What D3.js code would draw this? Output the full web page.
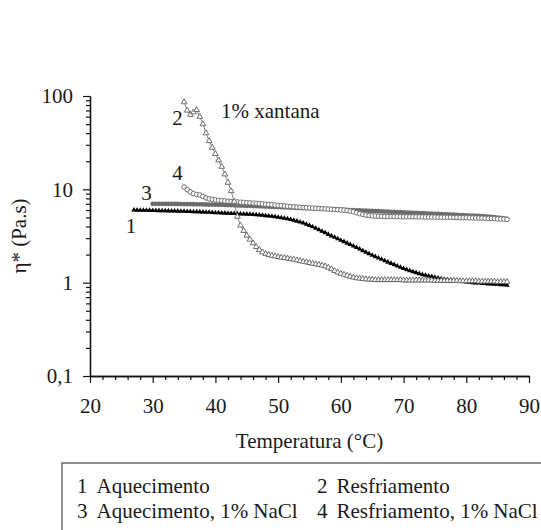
<!DOCTYPE html>
<html>
<head>
<meta charset="utf-8">
<script src="https://cdn.jsdelivr.net/npm/d3@7"></script>
<style>
  html, body { margin: 0; padding: 0; background: #fff; }
  svg { display: block; }
  text { font-family: "Liberation Serif", "Times New Roman", serif; fill: #1a1a1a; }
</style>
</head>
<body>
<svg id="chart" width="541" height="530"></svg>
<script>
// Temperature sweep grid (°C), shared by all four runs
const temperatura = [
  27, 27.5, 28, 28.5, 29, 29.5, 30, 30.5, 31, 31.5,
  32, 32.5, 33, 33.5, 34, 34.5, 35, 35.5, 36, 36.5,
  37, 37.5, 38, 38.5, 39, 39.5, 40, 40.5, 41, 41.5,
  42, 42.5, 43, 43.5, 44, 44.5, 45, 45.5, 46, 46.5,
  47, 47.5, 48, 48.5, 49, 49.5, 50, 50.5, 51, 51.5,
  52, 52.5, 53, 53.5, 54, 54.5, 55, 55.5, 56, 56.5,
  57, 57.5, 58, 58.5, 59, 59.5, 60, 60.5, 61, 61.5,
  62, 62.5, 63, 63.5, 64, 64.5, 65, 65.5, 66, 66.5,
  67, 67.5, 68, 68.5, 69, 69.5, 70, 70.5, 71, 71.5,
  72, 72.5, 73, 73.5, 74, 74.5, 75, 75.5, 76, 76.5,
  77, 77.5, 78, 78.5, 79, 79.5, 80, 80.5, 81, 81.5,
  82, 82.5, 83, 83.5, 84, 84.5, 85, 85.5, 86, 86.5
];

// η* (Pa.s) — 1: heating
const aquecimento = [
  6.00, 5.99, 5.98, 5.97, 5.96, 5.95, 5.94, 5.92, 5.91, 5.90,
  5.89, 5.88, 5.86, 5.85, 5.84, 5.82, 5.81, 5.79, 5.78, 5.76,
  5.75, 5.73, 5.71, 5.69, 5.67, 5.65, 5.62, 5.60, 5.58, 5.56,
  5.54, 5.52, 5.50, 5.48, 5.46, 5.44, 5.42, 5.40, 5.37, 5.34,
  5.31, 5.27, 5.23, 5.19, 5.14, 5.09, 5.03, 4.97, 4.90, 4.83,
  4.75, 4.66, 4.56, 4.46, 4.35, 4.23, 4.10, 3.97, 3.83, 3.69,
  3.55, 3.42, 3.29, 3.17, 3.06, 2.95, 2.85, 2.75, 2.65, 2.56,
  2.47, 2.38, 2.29, 2.20, 2.12, 2.04, 1.97, 1.90, 1.84, 1.78,
  1.72, 1.66, 1.61, 1.56, 1.51, 1.46, 1.42, 1.38, 1.34, 1.31,
  1.28, 1.25, 1.22, 1.20, 1.18, 1.16, 1.14, 1.12, 1.10, 1.09,
  1.08, 1.07, 1.06, 1.05, 1.04, 1.03, 1.02, 1.01, 1.00, 0.99,
  0.99, 0.98, 0.98, 0.97, 0.97, 0.96, 0.96, 0.95, 0.95, 0.94
];

// 2: cooling
const resfriamento = [
  null, null, null, null, null, null, null, null, null, null,
  null, null, null, null, null, null, 86, 70, 63, 67,
  71, 60, 50, 40, 33, 28, 24, 20.5, 17.5, 14.5,
  11.8, 9.6, 7.4, 5.1, 4.1, 3.6, 3.2, 2.9, 2.65, 2.42,
  2.25, 2.12, 2.04, 1.99, 1.95, 1.92, 1.89, 1.86, 1.84, 1.82,
  1.79, 1.77, 1.74, 1.71, 1.68, 1.66, 1.63, 1.60, 1.58, 1.56,
  1.53, 1.50, 1.45, 1.40, 1.34, 1.29, 1.25, 1.22, 1.19, 1.16,
  1.14, 1.12, 1.11, 1.10, 1.09, 1.08, 1.08, 1.07, 1.07, 1.07,
  1.07, 1.07, 1.07, 1.07, 1.07, 1.07, 1.06, 1.06, 1.06, 1.06,
  1.06, 1.06, 1.06, 1.06, 1.06, 1.06, 1.05, 1.05, 1.05, 1.05,
  1.05, 1.05, 1.05, 1.05, 1.04, 1.04, 1.04, 1.04, 1.04, 1.04,
  1.03, 1.03, 1.03, 1.03, 1.03, 1.03, 1.02, 1.02, 1.02, 1.02
];

// 3: heating, 1% NaCl
const aquecimentoNaCl = [
  null, null, null, null, null, null, 7.00, 7.00, 6.99, 6.99,
  6.98, 6.98, 6.97, 6.97, 6.96, 6.95, 6.95, 6.94, 6.93, 6.92,
  6.91, 6.90, 6.89, 6.88, 6.87, 6.86, 6.85, 6.83, 6.82, 6.80,
  6.79, 6.77, 6.75, 6.73, 6.71, 6.69, 6.67, 6.65, 6.63, 6.61,
  6.59, 6.57, 6.55, 6.52, 6.50, 6.48, 6.46, 6.44, 6.42, 6.40,
  6.38, 6.36, 6.34, 6.32, 6.30, 6.28, 6.26, 6.24, 6.22, 6.20,
  6.18, 6.16, 6.14, 6.12, 6.10, 6.08, 6.06, 6.04, 6.02, 6.00,
  5.98, 5.96, 5.94, 5.92, 5.90, 5.88, 5.86, 5.84, 5.82, 5.80,
  5.78, 5.76, 5.74, 5.72, 5.70, 5.68, 5.66, 5.64, 5.62, 5.60,
  5.58, 5.56, 5.54, 5.52, 5.50, 5.48, 5.46, 5.44, 5.42, 5.40,
  5.38, 5.36, 5.34, 5.32, 5.30, 5.28, 5.26, 5.24, 5.22, 5.20,
  5.18, 5.15, 5.12, 5.09, 5.06, 5.02, 4.98, 4.93, 4.88, 4.83
];

// 4: cooling, 1% NaCl
const resfriamentoNaCl = [
  null, null, null, null, null, null, null, null, null, null,
  null, null, null, null, null, null, 10.6, 9.9, 9.4, 9.0,
  8.8, 8.7, 8.4, 8.1, 7.9, 7.8, 7.7, 7.62, 7.56, 7.50,
  7.45, 7.40, 7.36, 7.32, 7.28, 7.24, 7.20, 7.16, 7.12, 7.08,
  7.03, 6.98, 6.93, 6.88, 6.83, 6.78, 6.73, 6.68, 6.63, 6.58,
  6.54, 6.50, 6.46, 6.42, 6.38, 6.35, 6.32, 6.29, 6.26, 6.23,
  6.20, 6.17, 6.14, 6.11, 6.08, 6.05, 6.02, 5.98, 5.92, 5.84,
  5.74, 5.62, 5.49, 5.38, 5.30, 5.24, 5.20, 5.17, 5.15, 5.13,
  5.12, 5.11, 5.10, 5.10, 5.09, 5.09, 5.09, 5.08, 5.08, 5.08,
  5.07, 5.07, 5.06, 5.06, 5.05, 5.05, 5.04, 5.03, 5.03, 5.02,
  5.01, 5.01, 5.00, 4.99, 4.98, 4.97, 4.96, 4.95, 4.94, 4.93,
  4.92, 4.91, 4.90, 4.88, 4.87, 4.85, 4.83, 4.81, 4.79, 4.77
];

// Axis ticks and labels
const xTicks = [20, 30, 40, 50, 60, 70, 80, 90];
const xMinorTicks = [22, 24, 26, 28, 32, 34, 36, 38, 42, 44, 46, 48, 52, 54, 56, 58,
                     62, 64, 66, 68, 72, 74, 76, 78, 82, 84, 86, 88];
const yTicks = [0.1, 1, 10, 100];
const yTickLabels = ["0,1", "1", "10", "100"];
const yMinorTicks = [0.2, 0.3, 0.4, 0.5, 0.6, 0.7, 0.8, 0.9,
                     2, 3, 4, 5, 6, 7, 8, 9,
                     20, 30, 40, 50, 60, 70, 80, 90];

const xTitle = "Temperatura (°C)";
const yTitle = "η* (Pa.s)";
const chartNote = "1% xantana";
const legendNumbers = ["1", "2", "3", "4"];
const legendNames = ["Aquecimento", "Resfriamento", "Aquecimento, 1% NaCl", "Resfriamento, 1% NaCl"];

const FONT = 21;
const SERIF = "'Liberation Serif', 'Times New Roman', serif";
const svg = d3.select("#chart");

const x = d3.scaleLinear().domain([20, 90]).range([90, 529]);
const y = d3.scaleLog().domain([0.1, 100]).range([376, 96]);

function styleAxis(g) {
  g.attr("font-family", SERIF);
  g.selectAll(".domain").attr("stroke", "#111").attr("stroke-width", 1.3);
  g.selectAll(".tick line").attr("stroke", "#111").attr("stroke-width", 1.2);
  g.selectAll(".tick text").attr("font-size", FONT).attr("fill", "#1a1a1a")
    .attr("font-family", SERIF);
}

// X axis: minor then major ticks
svg.append("g").attr("transform", "translate(0,376)")
  .call(d3.axisBottom(x).tickValues(xMinorTicks).tickSize(4).tickSizeOuter(0).tickFormat(""))
  .call(styleAxis);
svg.append("g").attr("transform", "translate(0,376)")
  .call(d3.axisBottom(x).tickValues(xTicks).tickSize(7).tickSizeOuter(0).tickPadding(15).tickFormat(d3.format("d")))
  .call(styleAxis);

// Y axis (log): minor then major ticks
svg.append("g").attr("transform", "translate(90,0)")
  .call(d3.axisLeft(y).tickValues(yMinorTicks).tickSize(4).tickSizeOuter(0).tickFormat(""))
  .call(styleAxis);
svg.append("g").attr("transform", "translate(90,0)")
  .call(d3.axisLeft(y).tickValues(yTicks).tickSize(7).tickSizeOuter(0).tickPadding(10)
    .tickFormat((d, i) => yTickLabels[i]))
  .call(styleAxis);

// Axis titles
svg.append("text").attr("x", (x(20) + x(90)) / 2).attr("y", 448)
  .attr("text-anchor", "middle").attr("font-size", FONT).attr("font-family", SERIF).text(xTitle);
svg.append("text").attr("transform", `translate(19,${(y(0.1) + y(100)) / 2}) rotate(-90)`)
  .attr("text-anchor", "middle").attr("dy", "0.35em").attr("font-size", FONT)
  .attr("font-family", SERIF).text(yTitle);

// Build point lists per series
function pts(values) {
  return temperatura.map((t, i) => ({ t, v: values[i] })).filter(d => d.v != null);
}

const line = d3.line().x(d => x(d.t)).y(d => y(d.v));
const plot = svg.append("g");

// 3: heating with NaCl — filled grey circles
const s3 = pts(aquecimentoNaCl);
plot.append("path").datum(s3).attr("d", line).attr("fill", "none")
  .attr("stroke", "#6a6a6a").attr("stroke-width", 1.2);
plot.append("g").selectAll("circle").data(s3).join("circle")
  .attr("cx", d => x(d.t)).attr("cy", d => y(d.v)).attr("r", 2.4)
  .attr("fill", "#6c6c6c");

// 4: cooling with NaCl — open circles
const s4 = pts(resfriamentoNaCl);
plot.append("path").datum(s4).attr("d", line).attr("fill", "none")
  .attr("stroke", "#8a8a8a").attr("stroke-width", 0.8);
plot.append("g").selectAll("circle").data(s4).join("circle")
  .attr("cx", d => x(d.t)).attr("cy", d => y(d.v)).attr("r", 2.3)
  .attr("fill", "#fff").attr("stroke", "#707070").attr("stroke-width", 1);

// 1: heating — filled black triangles
const s1 = pts(aquecimento);
const triSmall = d3.symbol(d3.symbolTriangle, 12);
plot.append("path").datum(s1).attr("d", line).attr("fill", "none")
  .attr("stroke", "#000").attr("stroke-width", 1.4);
plot.append("g").selectAll("path").data(s1).join("path")
  .attr("transform", d => `translate(${x(d.t)},${y(d.v)})`)
  .attr("d", triSmall).attr("fill", "#000");

// 2: cooling — open triangles on a thin grey line
const s2 = pts(resfriamento);
const triOpen = d3.symbol(d3.symbolTriangle, 14);
plot.append("path").datum(s2).attr("d", line).attr("fill", "none")
  .attr("stroke", "#777").attr("stroke-width", 0.9);
plot.append("g").selectAll("path").data(s2).join("path")
  .attr("transform", d => `translate(${x(d.t)},${y(d.v)})`)
  .attr("d", triOpen).attr("fill", "#fff").attr("stroke", "#5e5e5e").attr("stroke-width", 0.9);

// Series numbers and sample note
const notes = [
  { s: "2", x: 177.5, y: 125 },
  { s: "4", x: 177.5, y: 180 },
  { s: "3", x: 146.5, y: 200 },
  { s: "1", x: 131, y: 233 }
];
svg.append("g").selectAll("text").data(notes).join("text")
  .attr("x", d => d.x).attr("y", d => d.y).attr("text-anchor", "middle")
  .attr("font-size", FONT).attr("font-family", SERIF).text(d => d.s);
svg.append("text").attr("x", 221).attr("y", 118).attr("font-size", FONT)
  .attr("font-family", SERIF).text(chartNote);

// Legend box
const legend = svg.append("g").attr("font-family", SERIF);
legend.append("rect").attr("x", 62).attr("y", 463).attr("width", 520).attr("height", 120)
  .attr("fill", "none").attr("stroke", "#555").attr("stroke-width", 1.3);
const cols = [77, 317];
const rows = [493, 518];
legendNames.forEach((name, i) => {
  const cx = cols[i % 2], cy = rows[Math.floor(i / 2)];
  legend.append("text").attr("x", cx).attr("y", cy).attr("font-size", FONT).text(legendNumbers[i]);
  legend.append("text").attr("x", cx + 19.5).attr("y", cy).attr("font-size", FONT).text(name);
});
</script>
</body>
</html>
